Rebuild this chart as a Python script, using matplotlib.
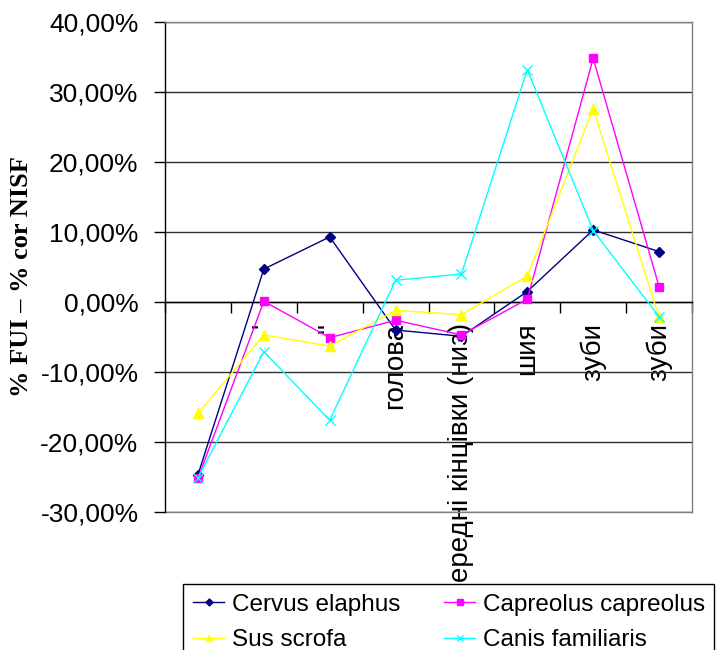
import matplotlib
matplotlib.use("Agg")
import matplotlib.pyplot as plt
from matplotlib.ticker import FixedLocator, FuncFormatter

# Category labels along the zero axis
categories = ["", "'", '"', "голова", "передні кінцівки (низ)", "шия", "зуби", "зуби"]

# Difference values, percent
cervus_elaphus = [-24.7, 4.7, 9.3, -4.0, -4.9, 1.5, 10.3, 7.2]
capreolus_capreolus = [-25.2, 0.1, -5.1, -2.6, -4.7, 0.4, 34.8, 2.2]
sus_scrofa = [-15.9, -4.7, -6.3, -1.2, -1.8, 3.7, 27.6, -2.2]
canis_familiaris = [-25.1, -7.1, -16.9, 3.1, 4.0, 33.2, 10.2, -2.1]

y_ticks = [-30, -20, -10, 0, 10, 20, 30, 40]

plt.rcParams["font.family"] = ["Liberation Sans", "DejaVu Sans"]

fig = plt.figure(figsize=(7.23, 6.5), dpi=100)
ax = fig.add_axes([165 / 723, 1 - 512 / 650, (692 - 165) / 723, (512 - 22) / 650])

x = list(range(len(categories)))
series = [
    ("Cervus elaphus", cervus_elaphus, "#000080", "D", 5.5),
    ("Capreolus capreolus", capreolus_capreolus, "#FF00FF", "s", 6),
    ("Sus scrofa", sus_scrofa, "#FFFF00", "^", 7),
    ("Canis familiaris", canis_familiaris, "#00FFFF", "x", 6.5),
]
lines = {}
for name, vals, col, mk, ms in series:
    ln, = ax.plot(x, vals, color=col, lw=1.0, marker=mk, markersize=ms,
                  markeredgecolor=col, markerfacecolor=col, markeredgewidth=1.0,
                  label=name, zorder=3)
    lines[name] = ln

ax.set_xlim(-0.5, len(categories) - 0.5)
ax.set_ylim(-30, 40)

# Y axis
ax.yaxis.set_major_locator(FixedLocator(y_ticks))
ax.yaxis.set_major_formatter(FuncFormatter(lambda v, p: f"{v:.2f}%".replace(".", ",")))
ax.tick_params(axis="y", direction="out", length=8, width=1, color="black",
               labelsize=19, pad=11)
ax.grid(axis="y", color="#303030", lw=1.0, zorder=1)
ax.set_axisbelow(True)

# Category axis sits at zero
ax.spines["bottom"].set_position(("data", 0))
ax.spines["bottom"].set_color("black")
ax.spines["bottom"].set_linewidth(1.0)
ax.spines["left"].set_color("black")
ax.spines["left"].set_linewidth(1.0)
for s in ("top", "right"):
    ax.spines[s].set_color("#808080")
    ax.spines[s].set_linewidth(1.0)

boundaries = [i - 0.5 for i in range(len(categories) + 1)]
ax.xaxis.set_major_locator(FixedLocator(boundaries))
ax.xaxis.set_major_formatter(FuncFormatter(lambda v, p: ""))
ax.xaxis.set_minor_locator(FixedLocator(x))
ax.set_xticklabels(categories, minor=True)
ax.tick_params(axis="x", which="major", direction="out", length=8, width=1, color="black")
ax.tick_params(axis="x", which="minor", length=0, pad=15, labelsize=20, labelrotation=90)

# Gray frame along the bottom of the plot area
ax.plot([0, 1], [0, 0], transform=ax.transAxes, color="#808080", lw=1.0, clip_on=False, zorder=2)

fig.text(22 / 723, 1 - 277 / 650, "% FUI – % cor NISF", rotation=90,
         ha="center", va="center", fontsize=19, fontweight="bold",
         family=["Liberation Serif", "DejaVu Serif"])

# Legend laid out row by row: Cervus, Capreolus / Sus, Canis
order = ["Cervus elaphus", "Sus scrofa", "Capreolus capreolus", "Canis familiaris"]
leg = fig.legend([lines[n] for n in order], order,
                 loc="upper left", bbox_to_anchor=(183 / 723, 1 - 584 / 650),
                 ncol=2, fontsize=17.5, frameon=True, fancybox=False, shadow=False,
                 handlelength=1.3, handletextpad=0.3, columnspacing=1.8,
                 borderpad=0.4, labelspacing=0.55, markerscale=0.65,
                 borderaxespad=0)
leg.get_frame().set_edgecolor("black")
leg.get_frame().set_linewidth(1.0)
leg.get_frame().set_facecolor("white")
leg.get_frame().set_alpha(1)

fig.savefig("out.png", dpi=100)
